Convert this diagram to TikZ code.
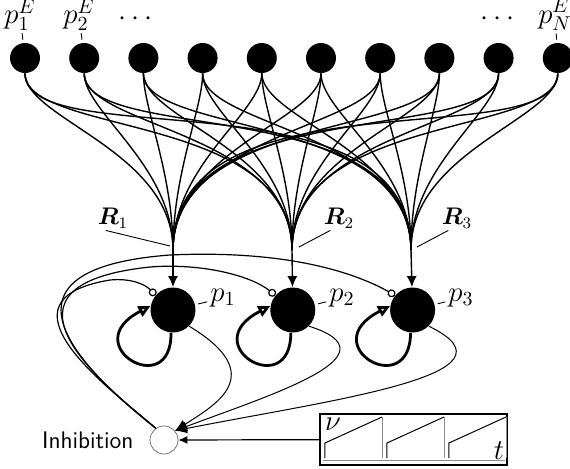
\documentclass[tikz,border=0pt]{standalone}
\usepackage{amsmath}
\usepackage{bm}
\usepackage{tikz}
\usetikzlibrary{arrows.meta,positioning,calc}

\begin{document}
\begin{tikzpicture}[x=0.5pt,y=-0.5pt,>=Latex,node distance=37pt,
   every node/.style={font=\Large},
   exc/.style={circle,fill=black,minimum size=15pt,inner sep=0pt},
   pop/.style={circle,fill=black,minimum size=22.5pt,inner sep=0pt},
   inh/.style={circle,draw=black!55,line width=0.4pt,minimum size=14pt,inner sep=0pt},
   fan/.style={line width=0.7pt},
   tag/.style={line width=0.45pt},
   selfloop/.style={line width=1.4pt,-{Triangle[open,length=6pt,width=5.5pt]}},
   inhib/.style={line width=0.6pt,-{Circle[open,length=4pt]}},
   outp/.style={line width=0.5pt,-{Latex[length=6pt,width=5pt]}}]
  \useasboundingbox (0,0) rectangle (570,468);

  % excitatory inputs
  \foreach \i in {1,...,10}
    \node[exc] (e\i) at ({25+59.2*(\i-1)},58) {};
  \node[inner sep=0.5pt] (le1) at (20,15) {$p^E_1$};
  \node[inner sep=0.5pt] (le2) at (79,15) {$p^E_2$};
  \node[inner sep=0.5pt] (leN) at (555,15) {$p^E_N$};
  \node[inner sep=0.5pt] (dotsa) at (138,19) {$\cdots$};
  \node[inner sep=0.5pt] (dotsb) at (500,19) {$\cdots$};
  \draw[tag,shorten <=0.5pt,shorten >=1.5pt] (le1) -- (e1);
  \draw[tag,shorten <=0.5pt,shorten >=1.5pt] (le2) -- (e2);
  \draw[tag,shorten <=0.5pt,shorten >=1.5pt] (leN) -- (e10);

  % populations
  \node[pop] (p1) at (173,310) {};
  \node[pop] (p2) [right=of p1] {};
  \node[pop] (p3) [right=of p2] {};
  \node (lp1) at (223,298) {$p_1$};
  \node (lp2) at (342,298) {$p_2$};
  \node (lp3) at (461,298) {$p_3$};
  \foreach \j in {1,2,3}
    \draw[tag,shorten <=1.5pt,shorten >=-2pt] (p\j) -- (lp\j);

  \coordinate (c1) at (173,250);
  \coordinate (c2) at (292,250);
  \coordinate (c3) at (411,250);
  \foreach \i in {1,...,10}
    \foreach \j in {1,2,3}
      \draw[fan] (e\i) to[out=-90,in=90,out looseness=0.5,in looseness=1.1] (c\j);
  \foreach \j in {1,2,3}
    \draw[fan,-{Latex[length=5.5pt,width=5pt]}] (c\j) -- (p\j);

  \node[inner sep=1pt,font=\large] (rl1) at (113,218) {$\boldsymbol{R}_1$};
  \node[inner sep=1pt,font=\large] (rl2) at (339,218) {$\boldsymbol{R}_2$};
  \node[inner sep=1pt,font=\large] (rl3) at (457,218) {$\boldsymbol{R}_3$};
  \draw[tag] (rl1.240) -- ($(c1)+(-3,-4)$);
  \draw[tag] (rl2.235) -- ($(c2)+(7,-3)$);
  \draw[tag] (rl3.235) -- ($(c3)+(6,-3)$);

  % self excitation
  \foreach \j/\x in {1/173,2/292,3/411}
    \draw[selfloop] (p\j.-95) .. controls ({\x-1},402) and ({\x-98},345) .. (p\j.170);

  % inhibition
  \node[inh] (inh) at (164,440) {};
  \node (inhlab) [left=4.5pt of inh,font=\sffamily\large] {Inhibition};
  \draw[inhib] (inh.125) .. controls (105,385) and (-10,300) .. (110,280)
     .. controls (130,278) and (145,284) .. (p1.140);
  \draw[inhib] (inh.125) .. controls (100,382) and (-20,285) .. (150,267)
     .. controls (200,263) and (250,275) .. (p2.140);
  \draw[inhib] (inh.125) .. controls (95,380) and (-30,270) .. (170,255)
     .. controls (280,250) and (350,270) .. (p3.140);
  \draw[outp] (p1.-45) .. controls (270,375) and (215,405) .. (inh.40);
  \draw[outp] (p2.-45) .. controls (400,355) and (270,395) .. (inh.40);
  \draw[outp] (p3.-45) .. controls (530,375) and (330,400) .. (inh.40);

  % oscillating drive
  \node[draw,line width=0.7pt,minimum width=93.5pt,minimum height=25.5pt,inner sep=0pt]
     (osc) at (413.5,439.5) {};
  \draw[black!45,line width=0.5pt] (323,460) -- (505,460);
  \foreach \s in {325,387,449} {
    \draw[line width=0.5pt] (\s,458) -- (\s,443) -- ({\s+57},417);
    \draw[black!45,line width=0.5pt] ({\s+58},417) -- ({\s+58},458);
  }
  \node (nu) at (333,424) {$\nu$};
  \node (tt) at (499,451) {$t$};
  \draw[line width=0.6pt,-{Latex[length=4.5pt,width=4pt]}] (osc) -- (inh);
\end{tikzpicture}
\end{document}
